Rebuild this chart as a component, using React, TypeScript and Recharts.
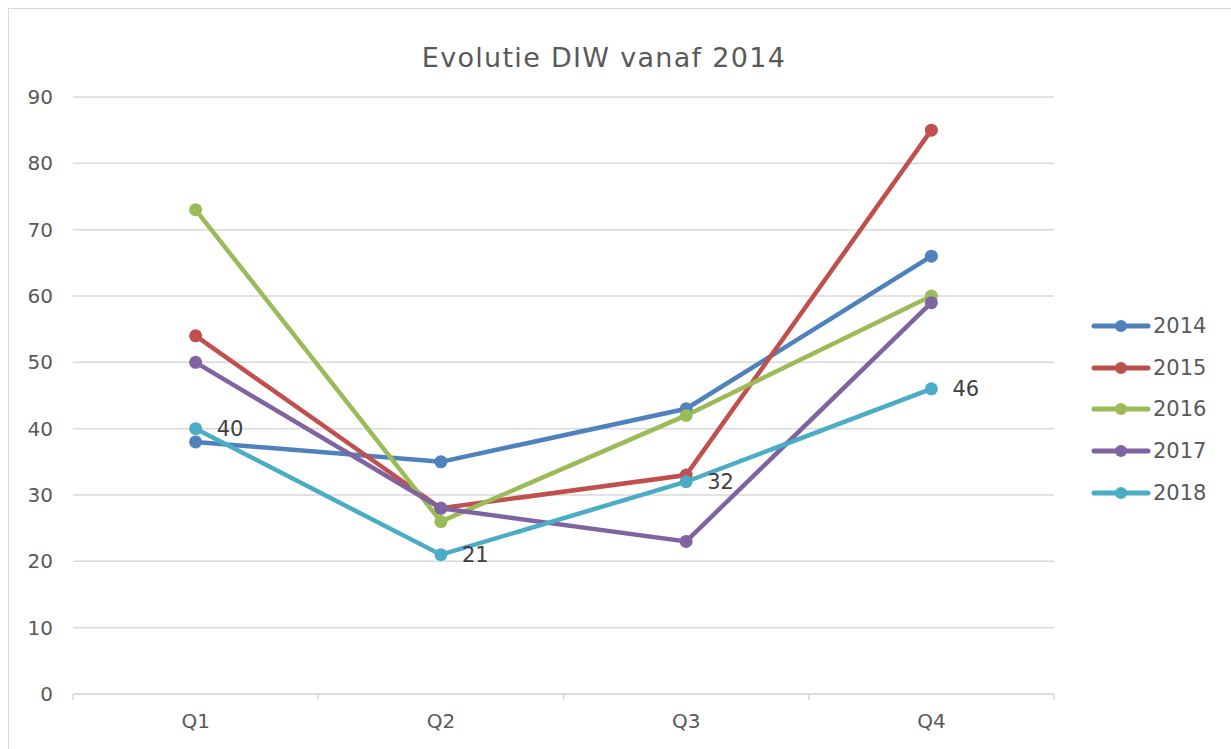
import { LineChart, Line, XAxis, YAxis, CartesianGrid, Legend, LabelList } from 'recharts';

const quarters = ['Q1', 'Q2', 'Q3', 'Q4'];
const years = ['2014', '2015', '2016', '2017', '2018'];
const colors = ['#4F81BD', '#C0504D', '#9BBB59', '#8064A2', '#4BACC6'];
const values2014 = [38, 35, 43, 66];
const values2015 = [54, 28, 33, 85];
const values2016 = [73, 26, 42, 60];
const values2017 = [50, 28, 23, 59];
const values2018 = [40, 21, 32, 46];
const yTicks = [0, 10, 20, 30, 40, 50, 60, 70, 80, 90];

const seriesValues = [values2014, values2015, values2016, values2017, values2018];

const data = quarters.map((q, i) => {
  const row: Record<string, string | number> = { quarter: q };
  years.forEach((y, s) => {
    row[y] = seriesValues[s][i];
  });
  return row;
});

const W = 1222;
const H = 740;
const PLOT_LEFT = 64;
const PLOT_RIGHT = 1045;
const BAND = (PLOT_RIGHT - PLOT_LEFT) / quarters.length;
const FONT = '"DejaVu Sans", Verdana, sans-serif';

const XTick = (props: any) => {
  const { x, y, payload, index } = props;
  const top = y - 8;
  return (
    <g>
      <line x1={x - BAND / 2} x2={x - BAND / 2} y1={top} y2={top + 6} stroke="#d9d9d9" strokeWidth={1.5} />
      {index === quarters.length - 1 && (
        <line x1={x + BAND / 2} x2={x + BAND / 2} y1={top} y2={top + 6} stroke="#d9d9d9" strokeWidth={1.5} />
      )}
      <text x={x} y={top + 34} textAnchor="middle" fill="#595959" fontSize={20} fontFamily={FONT}>
        {payload.value}
      </text>
    </g>
  );
};

const LegendContent = (props: any) => {
  const { payload } = props;
  return (
    <div style={{ fontFamily: FONT }}>
      {(payload || []).map((entry: any) => (
        <div key={entry.value} style={{ display: 'flex', alignItems: 'center', height: 41.7 }}>
          <svg width={60} height={16} style={{ marginRight: 2 }}>
            <line x1={3} x2={57} y1={8} y2={8} stroke={entry.color} strokeWidth={5} strokeLinecap="round" />
            <circle cx={30} cy={8} r={6} fill={entry.color} />
          </svg>
          <span style={{ fontSize: 21, color: '#595959' }}>{entry.value}</span>
        </div>
      ))}
    </div>
  );
};

export default function App() {
  return (
    <div
      style={{
        position: 'fixed',
        left: 8,
        top: 8,
        width: W,
        height: H,
        border: '1px solid #d9d9d9',
        background: '#fff',
      }}
    >
      <div
        style={{
          position: 'absolute',
          left: 595,
          top: 33,
          transform: 'translateX(-50%)',
          whiteSpace: 'nowrap',
          fontFamily: FONT,
          fontSize: 27,
          letterSpacing: 1.3,
          color: '#595959',
        }}
      >
        Evolutie DIW vanaf 2014
      </div>
      <LineChart width={W} height={H} data={data} margin={{ top: 88, right: W - PLOT_RIGHT, left: 0, bottom: 25 }}>
        <CartesianGrid horizontal vertical={false} stroke="#d9d9d9" strokeWidth={1.5} />
        <XAxis
          dataKey="quarter"
          height={30}
          padding={{ left: BAND / 2, right: BAND / 2 }}
          axisLine={{ stroke: '#d9d9d9', strokeWidth: 1.5 }}
          tickLine={false}
          tick={<XTick />}
        />
        <YAxis
          width={PLOT_LEFT}
          domain={[0, 90]}
          ticks={yTicks}
          axisLine={false}
          tickLine={false}
          tickSize={0}
          tickMargin={20}
          tick={{ fill: '#595959', fontSize: 20, fontFamily: FONT }}
        />
        <Legend
          layout="vertical"
          align="center"
          verticalAlign="middle"
          content={<LegendContent />}
          wrapperStyle={{ left: 1082, top: 296, width: 140 }}
        />
        {years.map((y, s) => (
          <Line
            key={y}
            dataKey={y}
            name={y}
            stroke={colors[s]}
            strokeWidth={4.5}
            dot={{ r: 6.5, fill: colors[s], stroke: colors[s], strokeWidth: 0 }}
            activeDot={false}
            isAnimationActive={false}
          >
            {s === years.length - 1 && (
              <LabelList dataKey={y} position="right" offset={21} fill="#404040" fontSize={21} fontFamily={FONT} />
            )}
          </Line>
        ))}
      </LineChart>
    </div>
  );
}
